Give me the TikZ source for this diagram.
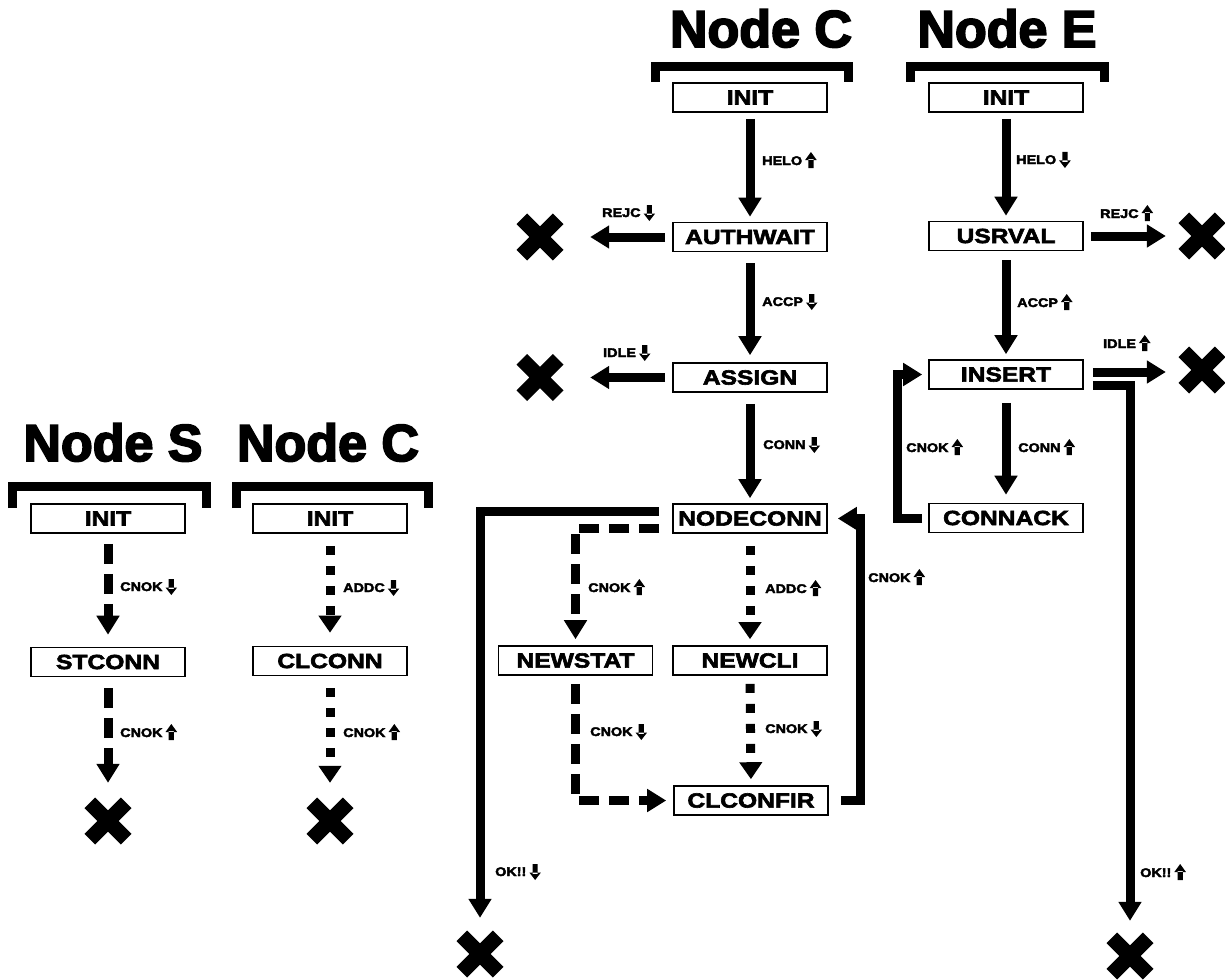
\documentclass[tikz,border=0pt]{standalone}
\usepackage{fontspec}
\setmainfont{Liberation Sans}
\newfontfamily\hdfont[FakeBold=3.5]{Liberation Sans Bold}
\newfontfamily\bxfont[FakeBold=3,FakeStretch=1.2]{Liberation Sans Bold}
\newfontfamily\lbfont[FakeBold=3,FakeStretch=1.15]{Liberation Sans Bold}
\usetikzlibrary{arrows.meta}
\newcommand\uparr{\hspace{3pt}\tikz[x=1pt,y=1pt,baseline=3pt]{\fill (-2.6,0) rectangle (2.6,9) (-5.8,8)--(5.8,8)--(0,16)--cycle;}}
\newcommand\dnarr{\hspace{3pt}\tikz[x=1pt,y=1pt,baseline=4pt]{\fill (-2.6,16) rectangle (2.6,6) (-5.8,7.5)--(5.8,7.5)--(0,0)--cycle;}}
\newcommand\xm[2]{\node[xmark] (#1) at (#2) {};
  \draw[xarm] (#1.north west)--(#1.south east) (#1.north east)--(#1.south west);}
\begin{document}
\begin{tikzpicture}[x=1pt,y=-1pt,
  box/.style={draw,line width=1.6pt,minimum width=154pt,minimum height=29pt,inner sep=0pt,
    font=\bxfont\fontsize{20.5}{20.5}\selectfont},
  hd/.style={font=\hdfont\fontsize{52}{52}\selectfont,anchor=base,inner sep=0pt},
  lbl/.style={font=\lbfont\fontsize{12.5}{12.5}\selectfont,anchor=west,inner sep=0pt},
  xmark/.style={minimum size=36pt,inner sep=0pt},
  xarm/.style={line width=15pt},
  brk/.style={line width=9pt,line join=miter},
  arr/.style={line width=9pt,-{Triangle[width=22pt,length=19pt]}},
  dsh/.style={arr,dash pattern=on 20pt off 10pt},
  dot/.style={line width=9pt,dash pattern=on 9pt off 11pt,-{Triangle[width=22pt,length=17pt]}}]
\useasboundingbox (0,0) rectangle (1225,979);

% headers and brackets
\node[hd] (hC) at (761,47) {Node C};
\node[hd] (hE) at (1007,47) {Node E};
\node[hd] (hS) at (113,461) {Node S};
\node[hd] (hC2) at (328,461) {Node C};
\draw[brk] (655,82)--(655,66.5)--(848,66.5)--(848,82);
\draw[brk] (910,82)--(910,66.5)--(1104,66.5)--(1104,82);
\draw[brk] (12,508)--(12,486.5)--(206,486.5)--(206,508);
\draw[brk] (236,508)--(236,486.5)--(428,486.5)--(428,508);

% boxes
\node[box] (initC) at (750,97.5) {INIT};
\node[box] (authwait) at (750,237) {AUTHWAIT};
\node[box] (assign) at (750,377.5) {ASSIGN};
\node[box] (nodeconn) at (750,518.5) {NODECONN};
\node[box] (newstat) at (575.5,660.5) {NEWSTAT};
\node[box] (newcli) at (750,660.5) {NEWCLI};
\node[box] (clconfir) at (751,800.5) {CLCONFIR};
\node[box] (initE) at (1006,97.5) {INIT};
\node[box] (usrval) at (1006,236) {USRVAL};
\node[box] (insert) at (1006,374.5) {INSERT};
\node[box] (connack) at (1006,518) {CONNACK};
\node[box] (initS) at (108,518.5) {INIT};
\node[box] (stconn) at (108,662) {STCONN};
\node[box] (initC2) at (330,518.5) {INIT};
\node[box] (clconn) at (330,661) {CLCONN};

% X marks
\xm{xA}{540,237}
\xm{xB}{540,377.5}
\xm{xC}{1202,236}
\xm{xD}{1202,370}
\xm{xOK1}{480,954}
\xm{xOK2}{1130,956}
\xm{xS}{108,821}
\xm{xC2}{330,821}

% Node C (right) connectors
\draw[arr,shorten <=6pt,shorten >=5pt] (initC.south) -- (authwait.north);
\draw[arr,shorten <=7pt,shorten >=32pt] (authwait.west) -- (authwait.west -| xA.east);
\draw[arr,shorten <=11pt,shorten >=7pt] (authwait.south) -- (assign.north);
\draw[arr,shorten <=7pt,shorten >=32pt] (assign.west) -- (assign.west -| xB.east);
\draw[arr,shorten <=11pt,shorten >=5pt] (assign.south) -- (nodeconn.north);
\coordinate (ncA) at ([yshift=7.5pt]nodeconn.west);
\coordinate (ncB) at ([yshift=-9.5pt]nodeconn.west);
\draw[arr,shorten <=13pt,shorten >=18pt] (ncA) -| (xOK1.north);
\draw[dsh,shorten <=13pt,shorten >=6pt] (ncB) -| (newstat.north);
\draw[dot,shorten <=12pt,shorten >=6pt] (nodeconn.south) -- (newcli.north);
\draw[dsh,shorten <=8pt,shorten >=7pt] (newstat.south) |- (clconfir.west);
\draw[dot,shorten <=8pt,shorten >=6pt] (newcli.south) -- (clconfir.north);
\draw[arr,shorten <=12pt,shorten >=10pt] (clconfir.east) -| ([xshift=33pt]nodeconn.east) -- (nodeconn.east);

% Node E connectors
\draw[arr,shorten <=6pt,shorten >=5pt] (initE.south) -- (usrval.north);
\draw[arr,shorten <=7pt,shorten >=18pt] (usrval.east) -- (usrval.east -| xC.west);
\draw[arr,shorten <=9pt,shorten >=5pt] (usrval.south) -- (insert.north);
\coordinate (inA) at ([yshift=2.5pt]insert.east);
\coordinate (inB) at ([yshift=-10.5pt]insert.east);
\draw[arr,shorten <=9pt,shorten >=18pt] (inA) -- (inA -| xD.west);
\draw[arr,shorten <=9pt,shorten >=17pt] (inB) -| (xOK2.north);
\draw[arr,shorten <=13pt,shorten >=8pt] (insert.south) -- (connack.north);
\draw[arr,shorten <=6pt,shorten >=6pt] (connack.west) -| ([xshift=-31pt]insert.west) -- (insert.west);

% Node S / Node C (left) connectors
\draw[dsh,shorten <=10pt,shorten >=12pt] (initS.south) -- (stconn.north);
\draw[dsh,shorten <=11pt,shorten >=20pt] (stconn.south) -- (xS.north);
\draw[dot,shorten <=12pt,shorten >=13pt] (initC2.south) -- (clconn.north);
\draw[dot,shorten <=12pt,shorten >=20pt] (clconn.south) -- (xC2.north);

% labels
\node[lbl] (l1) at (762,160) {HELO\uparr};
\node[lbl] (l2) at (602,213) {REJC\dnarr};
\node[lbl] (l3) at (762,302) {ACCP\dnarr};
\node[lbl] (l4) at (603,353) {IDLE\dnarr};
\node[lbl] (l5) at (763,445) {CONN\dnarr};
\node[lbl] (l6) at (588,587) {CNOK\uparr};
\node[lbl] (l7) at (765,588) {ADDC\uparr};
\node[lbl] (l8) at (590,732) {CNOK\dnarr};
\node[lbl] (l9) at (765,729) {CNOK\dnarr};
\node[lbl] (l10) at (868,577) {CNOK\uparr};
\node[lbl] (l11) at (495,872) {OK!!\dnarr};
\node[lbl] (l12) at (1016,160) {HELO\dnarr};
\node[lbl] (l13) at (1100,213) {REJC\uparr};
\node[lbl] (l14) at (1017,302) {ACCP\uparr};
\node[lbl] (l15) at (1103,343) {IDLE\uparr};
\node[lbl] (l16) at (906,447) {CNOK\uparr};
\node[lbl] (l17) at (1018,447) {CONN\uparr};
\node[lbl] (l18) at (1140,872) {OK!!\uparr};
\node[lbl] (l19) at (120,587) {CNOK\dnarr};
\node[lbl] (l20) at (343,588) {ADDC\dnarr};
\node[lbl] (l21) at (120,732) {CNOK\uparr};
\node[lbl] (l22) at (343,732) {CNOK\uparr};
\end{tikzpicture}
\end{document}
